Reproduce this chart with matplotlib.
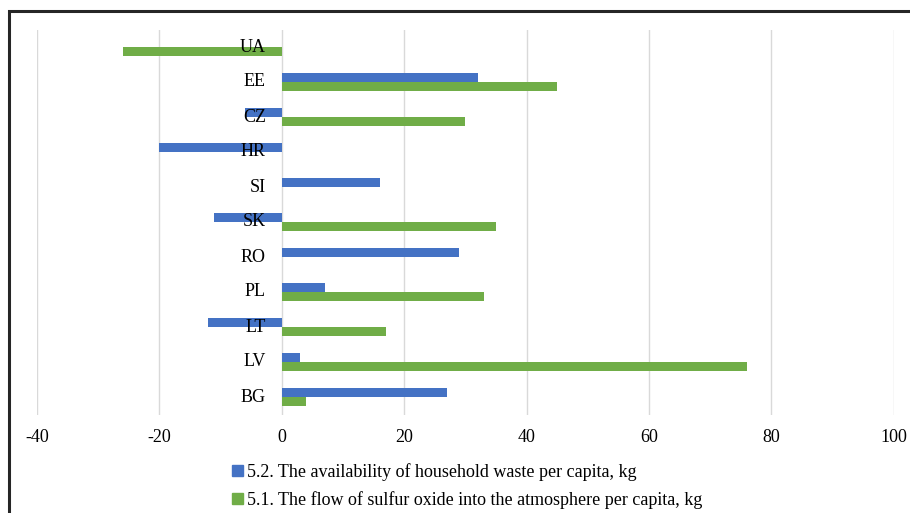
import matplotlib
matplotlib.use("Agg")
import matplotlib.pyplot as plt
from matplotlib.patches import Rectangle, Patch
import matplotlib.transforms as mtrans
import numpy as np

categories = ["BG", "LV", "LT", "PL", "RO", "SK", "SI", "HR", "CZ", "EE", "UA"]
waste = [27, 3, -12, 7, 29, -11, 16, -20, -6, 32, 0]          # 5.2
sulfur = [4, 76, 17, 33, 0, 35, 0, 0, 30, 45, -26]            # 5.1
series_names = ["5.2. The availability of household waste per capita, kg",
                "5.1. The flow of sulfur oxide into the atmosphere per capita, kg"]
xticks = [-40, -20, 0, 20, 40, 60, 80, 100]

blue = "#4472C4"
green = "#70AD47"

plt.rcParams['font.family'] = ['Liberation Serif', 'DejaVu Serif']
FS = 13

W, H = 910, 513
fig = plt.figure(figsize=(W / 100, H / 100), dpi=100)
ax = fig.add_axes([37 / W, (H - 414.5) / H, (893.8 - 37) / W, (414.5 - 29.5) / H])

y = np.arange(len(categories))
h = 0.27
ax.barh(y + h / 2, waste, height=h, color=blue, zorder=2)
ax.barh(y - h / 2, sulfur, height=h, color=green, zorder=2)

ax.set_xlim(-40, 100)
ax.set_ylim(-0.5, len(categories) - 0.5)
ax.set_xticks(xticks)
ax.set_xticklabels([str(t) for t in xticks], fontsize=FS)
ax.tick_params(axis='x', length=0, pad=10.5)
ax.set_yticks([])
ax.grid(axis='x', color='#d9d9d9', linewidth=1, zorder=0)
for s in ax.spines.values():
    s.set_visible(False)

off = mtrans.offset_copy(ax.transData, fig=fig, x=-16, y=0, units='dots')
for yi, c in zip(y, categories):
    ax.text(0, yi, c, transform=off, ha='right', va='center', fontsize=FS, zorder=5)

handles = [Patch(color=blue), Patch(color=green)]
fig.legend(handles, series_names, loc='upper left', bbox_to_anchor=(232 / W, 1 - 463 / H),
           frameon=False, fontsize=FS, handlelength=0.6, handleheight=0.6,
           handletextpad=0.25, labelspacing=0.55, borderpad=0, borderaxespad=0)

fig.patches.append(Rectangle((8.5 / W, -0.1), 1.2, (H - 11.5) / H + 0.1, transform=fig.transFigure,
                             fill=False, edgecolor='#262626', linewidth=2.2))

fig.savefig("out.png", dpi=100)
